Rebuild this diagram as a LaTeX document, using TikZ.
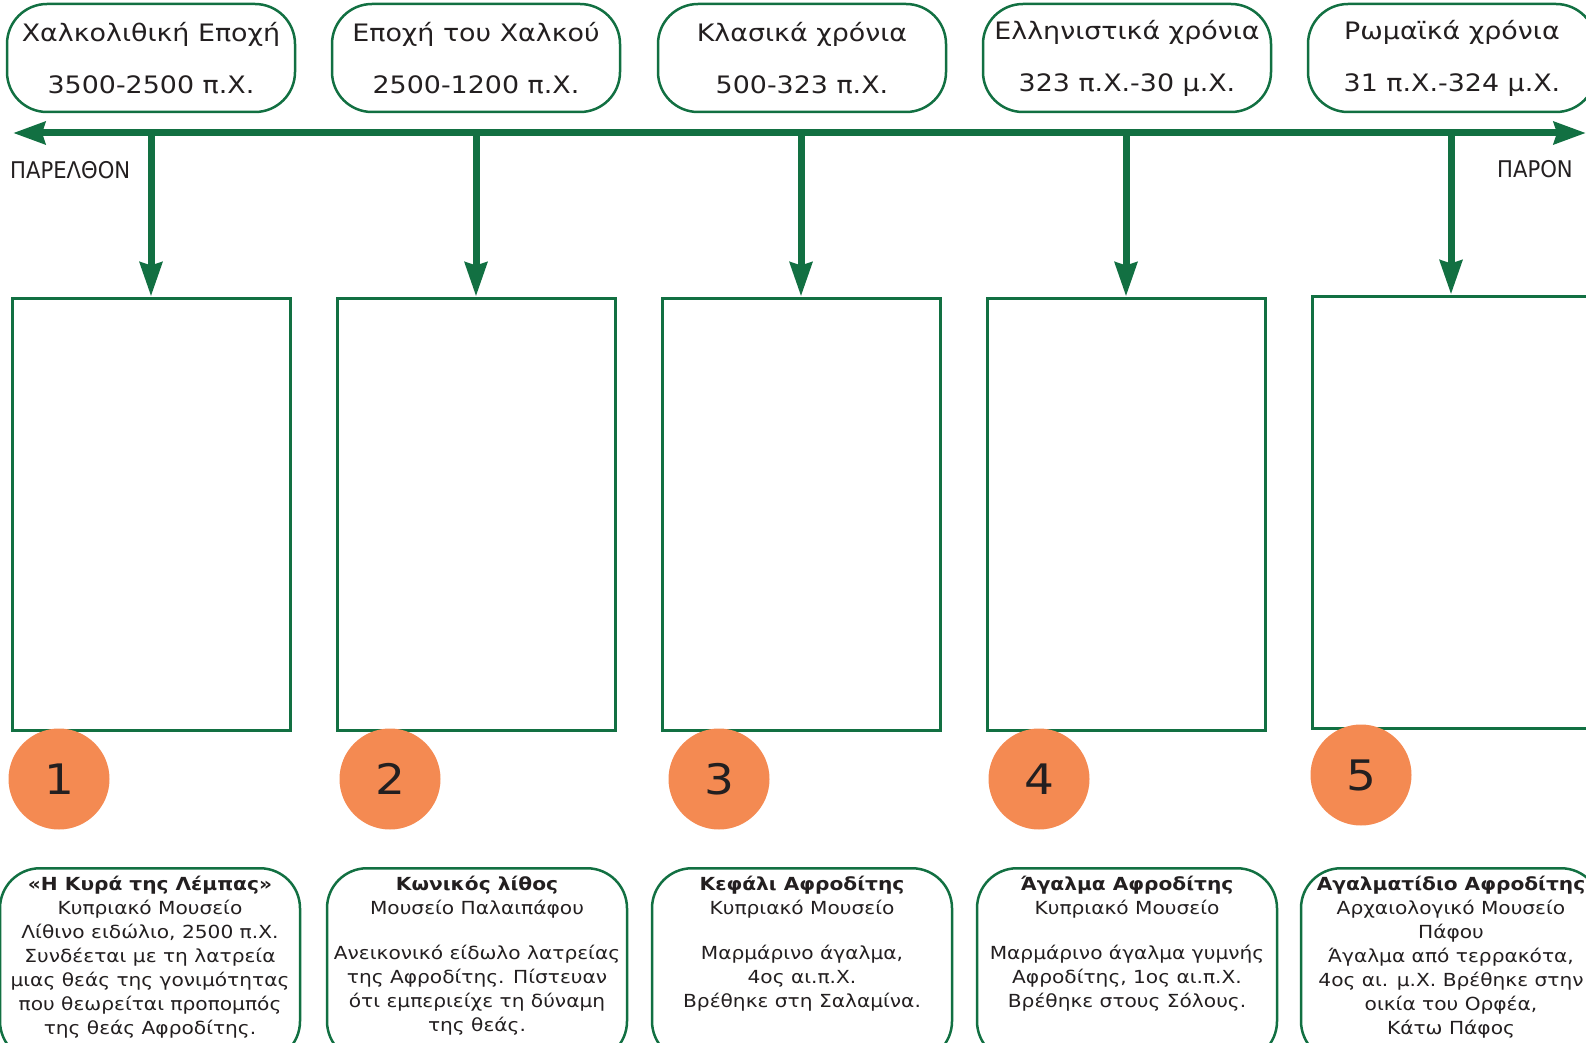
\documentclass[tikz,border=0pt]{standalone}
\usepackage{fontspec}
\setmainfont{DejaVu Sans}[FakeStretch=1.12]
\newfontfamily\capsfont{DejaVu Sans}[FakeStretch=0.92]
\usetikzlibrary{positioning,arrows.meta}
\definecolor{lineGreen}{RGB}{18,112,66}
\definecolor{dotOrange}{RGB}{244,138,82}
\definecolor{inkBlack}{RGB}{35,31,32}
\tikzset{
    era/.style =
    {   draw = lineGreen, line width = 2.5pt, rounded corners = 40pt
    ,   minimum width = 288pt, minimum height = 108pt, inner sep = 0pt
    ,   align = center, text = inkBlack, font = \fontsize{24}{52}\selectfont
    },
    frame/.style =
    {   draw = lineGreen, line width = 3pt
    ,   minimum width = 278pt, minimum height = 432pt, inner sep = 0pt
    },
    badge/.style =
    {   circle, fill = dotOrange, minimum size = 101pt, inner sep = 0pt
    ,   text = inkBlack, font = \fontsize{42}{42}\selectfont
    },
    card/.style =
    {   draw = lineGreen, line width = 2.5pt, rounded corners = 40pt
    ,   minimum width = 300pt, minimum height = 193pt, inner sep = 0pt
    ,   anchor = north
    },
    cardtext/.style =
    {   align = center, inner sep = 0pt, text = inkBlack
    ,   font = \fontsize{18}{24}\selectfont
    },
    side/.style =
    {   inner sep = 0pt, text = inkBlack, font = \capsfont\fontsize{23}{23}\selectfont
    },
    axis/.style =
    {   draw = lineGreen, line width = 7pt
    ,   {Stealth[length=32pt,width=22pt,inset=3pt]}-{Stealth[length=32pt,width=22pt,inset=3pt]}
    },
    drop/.style =
    {   draw = lineGreen, line width = 7pt
    ,   -{Stealth[length=34pt,width=22pt,inset=3pt]}
    }
}
\begin{document}
\begin{tikzpicture}
        [   x = 1pt, y = -1pt
        ]
        \useasboundingbox (0,0) rectangle (1586,1043);
        % periods
        \node[era] (era1) at (151,58) {Χαλκολιθική Εποχή\\3500-2500 π.Χ.};
        \node[era] (era2) at (476,58) {Εποχή του Χαλκού\\2500-1200 π.Χ.};
        \node[era] (era3) at (802,58) {Κλασικά χρόνια\\500-323 π.Χ.};
        \node[era] (era4) at (1127,58) {Ελληνιστικά χρόνια\\323 π.Χ.-30 μ.Χ.};
        \node[era] (era5) at (1452,58) {Ρωμαϊκά χρόνια\\31 π.Χ.-324 μ.Χ.};
        % time axis
        \coordinate (past) at (13,133);
        \coordinate (present) at (1586,133);
        \draw[axis] (past) -- (present);
        \node[side, anchor = west] (pastlabel) at (10,170) {ΠΑΡΕΛΘΟΝ};
        \node[side, anchor = east] (nowlabel) at (1573,169) {ΠΑΡΟΝ};
        % empty frames
        \node[frame] (frame1) at (151,514) {};
        \node[frame] (frame2) at (476,514) {};
        \node[frame] (frame3) at (801,514) {};
        \node[frame] (frame4) at (1126,514) {};
        \node[frame] (frame5) at (1451,512) {};
        \draw[drop] (frame1.north |- past) -- (frame1.north);
        \draw[drop] (frame2.north |- past) -- (frame2.north);
        \draw[drop] (frame3.north |- past) -- (frame3.north);
        \draw[drop] (frame4.north |- past) -- (frame4.north);
        \draw[drop] (frame5.north |- past) -- (frame5.north);
        % numbers
        \node[badge] (badge1) at (59,779) {1};
        \node[badge] (badge2) at (390,779) {2};
        \node[badge] (badge3) at (719,779) {3};
        \node[badge] (badge4) at (1039,779) {4};
        \node[badge] (badge5) at (1361,775) {5};
        % captions
        \node[card] (card1) at (150,867) {};
        \node[card] (card2) at (477,867) {};
        \node[card] (card3) at (802,867) {};
        \node[card] (card4) at (1127,867) {};
        \node[card] (card5) at (1451,867) {};
        \node[cardtext, below = 9pt of card1.north] (note1)
            {\textbf{«Η Κυρά της Λέμπας»}\\Κυπριακό Μουσείο\\Λίθινο ειδώλιο, 2500 π.Χ.\\Συνδέεται με τη λατρεία\\μιας θεάς της γονιμότητας\\που θεωρείται προπομπός\\της θεάς Αφροδίτης.};
        \node[cardtext, below = 9pt of card2.north] (note2)
            {\textbf{Κωνικός λίθος}\\Μουσείο Παλαιπάφου\\[21pt]Ανεικονικό είδωλο λατρείας\\της Αφροδίτης. Πίστευαν\\ότι εμπεριείχε τη δύναμη\\της θεάς.};
        \node[cardtext, below = 9pt of card3.north] (note3)
            {\textbf{Κεφάλι Αφροδίτης}\\Κυπριακό Μουσείο\\[21pt]Μαρμάρινο άγαλμα,\\4ος αι.π.Χ.\\Βρέθηκε στη Σαλαμίνα.};
        \node[cardtext, below = 9pt of card4.north] (note4)
            {\textbf{Άγαλμα Αφροδίτης}\\Κυπριακό Μουσείο\\[21pt]Μαρμάρινο άγαλμα γυμνής\\Αφροδίτης, 1ος αι.π.Χ.\\Βρέθηκε στους Σόλους.};
        \node[cardtext, below = 9pt of card5.north] (note5)
            {\textbf{Αγαλματίδιο Αφροδίτης}\\Αρχαιολογικό Μουσείο\\Πάφου\\Άγαλμα από τερρακότα,\\4ος αι. μ.Χ. Βρέθηκε στην\\οικία του Ορφέα,\\Κάτω Πάφος};
    \end{tikzpicture}
\end{document}
